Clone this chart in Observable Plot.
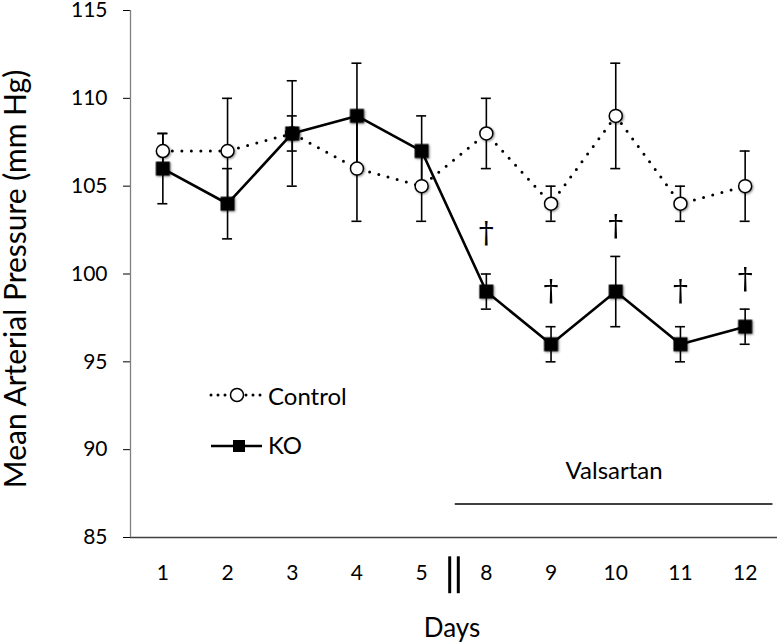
<!DOCTYPE html>
<html><head><meta charset="utf-8">
<script src="https://cdn.jsdelivr.net/npm/d3@7"></script>
<script src="https://cdn.jsdelivr.net/npm/@observablehq/plot@0.6"></script>
<style>
body{margin:0;background:#fff;}
#wrap{position:relative;width:777px;height:644px;}
g[aria-label="dot"]{filter: drop-shadow(1px 1.5px 1.2px rgba(0,0,0,0.45));}
g[aria-label^="y-axis"] line{stroke:#808080;stroke-width:1.3;}
</style></head><body><div id="wrap"></div>
<script>
// ---- data ----
const days = ["1","2","3","4","5","8","9","10","11","12"];
const controlMean = [107,107,108,106,105,108,104,109,104,105];
const controlErr  = [1,3,3,3,2,2,1,3,1,2];
const koMean = [106,104,108,109,107,99,96,99,96,97];
const koErr  = [2,2,1,3,2,1,1,2,1,1];
const daggerDays = ["8","9","10","11","12"];
const daggerLevel = [102.3,99.0,102.7,99.0,99.7];
const seriesNames = ["Control","KO"];
const treatment = {label:"Valsartan", fromIndex:4.52, toIndex:9.43, level:86.9};

// ---- build ----
const W = 777, H = 644, ML = 130, MR = 0, MT = 10, MB = 107;
const step = (W - ML - MR) / days.length;   // px per category
const cap = 5 / step;                         // half cap width in index units
const control = days.map((d,i)=>({i, day:d, y:controlMean[i], e:controlErr[i]}));
const ko = days.map((d,i)=>({i, day:d, y:koMean[i], e:koErr[i]}));
const all = control.concat(ko);
const daggers = daggerDays.map((d,k)=>({i:days.indexOf(d), y:daggerLevel[k]}));

const chart = Plot.plot({
  width: W, height: H,
  marginLeft: ML, marginRight: MR, marginTop: MT, marginBottom: MB,
  style: {fontFamily: "Lato, sans-serif", fontSize: "21px", color: "#000", background: "white", overflow: "visible"},
  x: {domain: [-0.5, days.length - 0.5], axis: null},
  y: {domain: [85, 115], ticks: 6, tickSize: 7, tickPadding: 16, label: null},
  marks: [
    Plot.ruleY([85], {stroke: "#404040", strokeWidth: 1.5}),
    Plot.ruleX([-0.5], {stroke: "#808080", strokeWidth: 1.3}),
    // x tick labels
    Plot.text(days, {x: (d,i)=>i, y: 85, dy: 36, text: d=>d, fontSize: 21, lineAnchor: "middle"}),
    // axis break marker
    Plot.ruleX([4.5 - 4.3/step, 4.5 + 4.3/step], {y1: 83.9, y2: 81.8, stroke: "#000", strokeWidth: 3}),
    // treatment bar
    Plot.ruleY([treatment.level], {x1: treatment.fromIndex, x2: treatment.toIndex, stroke: "#000", strokeWidth: 1.5}),
    Plot.text([treatment.label], {x: (treatment.fromIndex + treatment.toIndex)/2, y: 88.74, text: d=>d, fontSize: 24, lineAnchor: "middle"}),
    // lines
    Plot.line(control, {x: "i", y: "y", stroke: "#000", strokeWidth: 3, strokeDasharray: "0 9.5", strokeLinecap: "round"}),
    Plot.line(ko, {x: "i", y: "y", stroke: "#000", strokeWidth: 2.6}),
    // error bars
    Plot.ruleX(all, {x: "i", y1: d=>d.y - d.e, y2: d=>d.y + d.e, stroke: "#000", strokeWidth: 1.6}),
    Plot.ruleY(all, {y: d=>d.y + d.e, x1: d=>d.i - cap, x2: d=>d.i + cap, stroke: "#000", strokeWidth: 1.6}),
    Plot.ruleY(all, {y: d=>d.y - d.e, x1: d=>d.i - cap, x2: d=>d.i + cap, stroke: "#000", strokeWidth: 1.6}),
    // markers
    Plot.dot(control, {x: "i", y: "y", r: 6.5, fill: "white", stroke: "#000", strokeWidth: 1.5}),
    Plot.dot(ko, {x: "i", y: "y", r: 7.9, symbol: "square", fill: "#000", stroke: "none"}),
    // significance daggers
    Plot.text(daggers, {x: "i", y: "y", text: ()=>"\u2020", fontFamily: "'DejaVu Serif', serif", fontSize: 30, lineAnchor: "middle"}),
    // axis titles
    Plot.text(["Mean Arterial Pressure (mm Hg)"], {frameAnchor: "left", textAnchor: "middle", rotate: -90, dx: -114, dy: 5, text: d=>d, fontSize: 30, lineAnchor: "middle"}),
    Plot.text(["Days"], {frameAnchor: "bottom", textAnchor: "middle", dx: -2, dy: 91.5, text: d=>d, fontSize: 26, lineAnchor: "middle"})
  ]
});
document.getElementById("wrap").appendChild(chart);

// ---- legend ----
const svg = d3.select(chart);
const lg = svg.append("g").attr("font-family", "Lato, sans-serif").attr("font-size", 24).attr("text-anchor", "start");
const rows = [{name: seriesNames[0], y: 395}, {name: seriesNames[1], y: 446}];
// Control
lg.append("line").attr("x1", 211).attr("x2", 263).attr("y1", rows[0].y).attr("y2", rows[0].y)
  .attr("stroke", "#000").attr("stroke-width", 3).attr("stroke-dasharray", "0 7").attr("stroke-linecap", "round");
lg.append("circle").attr("cx", 237).attr("cy", rows[0].y).attr("r", 6.5).attr("fill", "white").attr("stroke", "#000").attr("stroke-width", 1.5);
lg.append("text").attr("x", 268).attr("y", 405).text(rows[0].name);
// KO
lg.append("line").attr("x1", 211).attr("x2", 262).attr("y1", rows[1].y).attr("y2", rows[1].y)
  .attr("stroke", "#000").attr("stroke-width", 2.6);
lg.append("rect").attr("x", 233).attr("y", rows[1].y - 6).attr("width", 12).attr("height", 12).attr("fill", "#000");
lg.append("text").attr("x", 268).attr("y", 454).text(rows[1].name);
</script></body></html>
